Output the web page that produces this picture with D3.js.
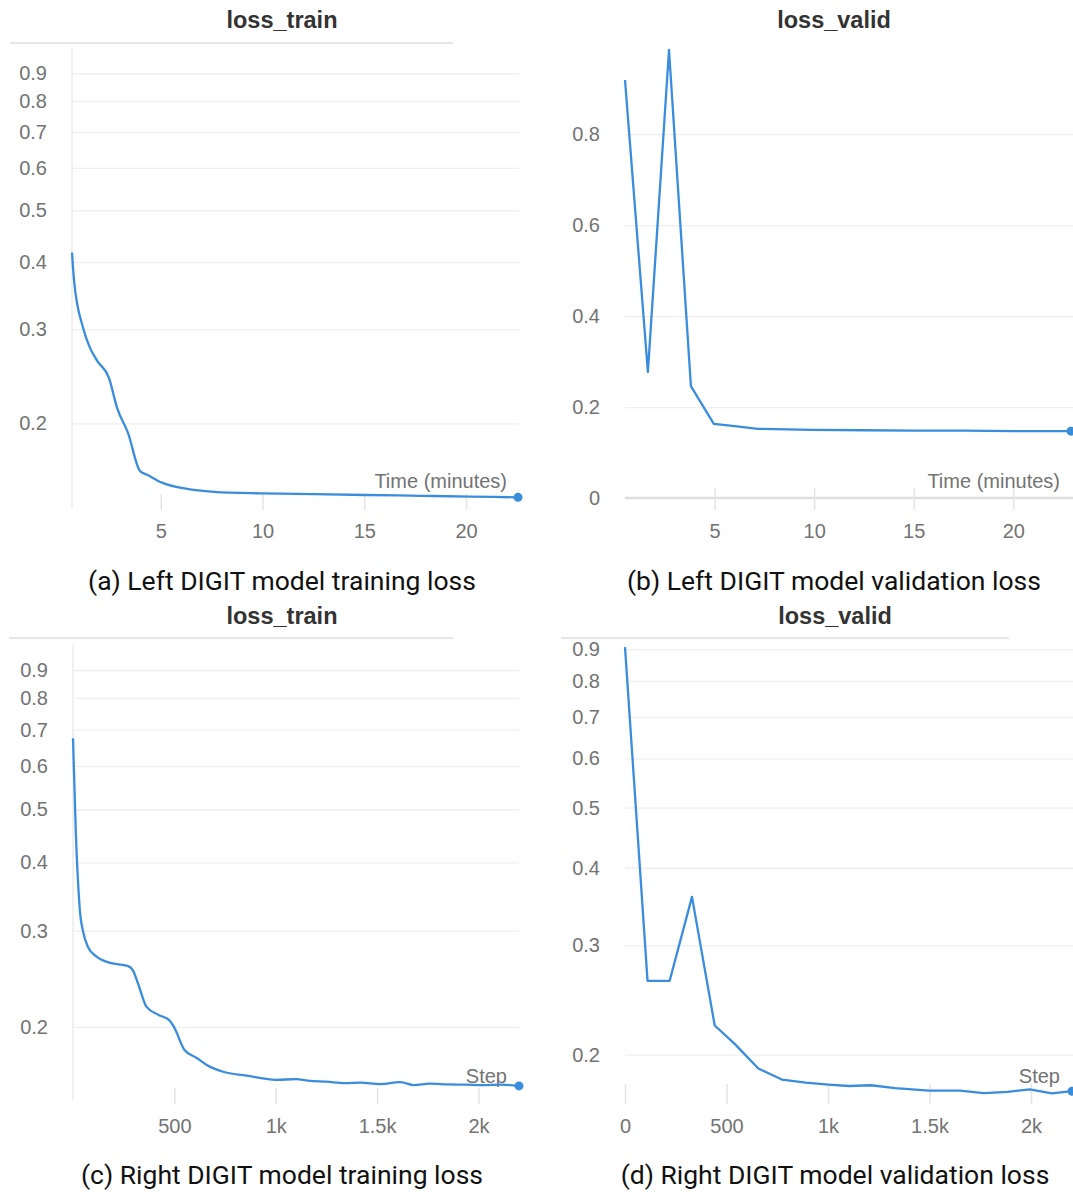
<!DOCTYPE html>
<html>
<head>
<meta charset="utf-8">
<script src="https://cdn.jsdelivr.net/npm/d3@7"></script>
<style>
  html, body { margin: 0; padding: 0; background: #fff; }
  svg { display: block; }
  .tick text { font-family: "Liberation Sans", Arial, sans-serif; }
</style>
</head>
<body>
<svg id="chart" width="1073" height="1197"></svg>
<script>
// ---------- data ----------
// (a) Left DIGIT training loss vs time (minutes)
const aTime = [0.64, 0.74, 1.18, 1.52, 1.87, 2.46, 2.85, 3.39, 3.98, 4.38, 5.06, 6.24, 7.62, 9.98, 12.5, 15.1, 17.8, 20.2, 22.55];
const aLoss = [0.417, 0.370, 0.302, 0.277, 0.262, 0.243, 0.214, 0.192, 0.163, 0.160, 0.155, 0.151, 0.149, 0.148, 0.1475, 0.147, 0.1465, 0.146, 0.1455];
// (b) Left DIGIT validation loss vs time (minutes)
const bTime = [0.5, 1.65, 2.71, 3.81, 4.96, 6.0, 7.17, 9.9, 12.5, 15.0, 17.5, 20.0, 22.9];
const bLoss = [0.919, 0.277, 0.985, 0.246, 0.163, 0.158, 0.152, 0.150, 0.149, 0.148, 0.148, 0.147, 0.147];
// (c) Right DIGIT training loss vs step
const cStep = [0, 14, 28, 35, 48, 74, 116, 184, 269, 295, 320, 363, 422, 473, 498, 550, 610, 660, 745, 864, 1001, 1100, 1170, 1250, 1342, 1420, 1514, 1614, 1682, 1760, 1850, 1940, 2022, 2110, 2200];
const cLoss = [0.675, 0.453, 0.352, 0.323, 0.301, 0.280, 0.269, 0.262, 0.2586, 0.254, 0.2407, 0.2176, 0.2104, 0.206, 0.200, 0.1815, 0.1755, 0.1704, 0.1654, 0.1627, 0.160, 0.1605, 0.1593, 0.1588, 0.1578, 0.1582, 0.1572, 0.1585, 0.1565, 0.1575, 0.157, 0.1568, 0.1565, 0.1568, 0.156];
// (d) Right DIGIT validation loss vs step
const dStep = [0, 111, 220, 330, 442, 539, 657, 773, 890, 1002, 1103, 1212, 1330, 1498, 1650, 1767, 1885, 1994, 2103, 2202];
const dLoss = [0.907, 0.263, 0.263, 0.359, 0.2228, 0.2083, 0.1899, 0.1823, 0.1802, 0.1789, 0.178, 0.1785, 0.1766, 0.175, 0.175, 0.1734, 0.1742, 0.1758, 0.1732, 0.1746];

// tick labels
const logYTicks = [0.2, 0.3, 0.4, 0.5, 0.6, 0.7, 0.8, 0.9];
const linYTicks = [0, 0.2, 0.4, 0.6, 0.8];
const timeTicks = [5, 10, 15, 20];
const stepTicksC = [500, 1000, 1500, 2000];
const stepTicksD = [0, 500, 1000, 1500, 2000];

const titles = ["loss_train", "loss_valid", "loss_train", "loss_valid"];
const xLabels = ["Time (minutes)", "Time (minutes)", "Step", "Step"];
const captions = [
  "(a) Left DIGIT model training loss",
  "(b) Left DIGIT model validation loss",
  "(c) Right DIGIT model training loss",
  "(d) Right DIGIT model validation loss"
];

// ---------- drawing ----------
const LINE = "#3a8ddd";
const FS = 20;
const svg = d3.select("#chart");

const panels = [
  { xs: aTime, ys: aLoss, log: true, xDom: [0.64, 22.55], xR: [72, 518], yDom: [0.139, 1.0], yR: [508, 49],
    gridR: [72, 519], yTicks: logYTicks, xTicks: timeTicks, xFmt: d3.format("d"),
    tickTop: 494, tickLen: 16, labC: 531, cx: 282, titleY: 28, underline: [10, 453, 43], vAxis: true,
    xLabel: [507, 488], capY: 590, zeroAxis: false, curve: d3.curveMonotoneX },
  { xs: bTime, ys: bLoss, log: false, xDom: [0.5, 22.9], xR: [625, 1071], yDom: [0, 0.985], yR: [498, 50],
    gridR: [625, 1073], yTicks: linYTicks, xTicks: timeTicks, xFmt: d3.format("d"),
    tickTop: 488, tickLen: 22, labC: 531, cx: 834, titleY: 28, underline: null, vAxis: false,
    xLabel: [1060, 488], capY: 590, zeroAxis: true, curve: d3.curveLinear },
  { xs: cStep, ys: cLoss, log: true, xDom: [0, 2200], xR: [73, 519], yDom: [0.147, 1.0], yR: [1100, 645],
    gridR: [73, 519], yTicks: logYTicks, xTicks: stepTicksC, xFmt: d3.format("~s"),
    tickTop: 1088, tickLen: 16, labC: 1126, cx: 282, titleY: 624, underline: [9, 453, 638], vAxis: true,
    xLabel: [507, 1083], capY: 1184, zeroAxis: false, curve: d3.curveMonotoneX },
  { xs: dStep, ys: dLoss, log: true, xDom: [0, 2202], xR: [625, 1072], yDom: [0.169, 0.914], yR: [1100, 645],
    gridR: [625, 1073], yTicks: logYTicks, xTicks: stepTicksD, xFmt: d3.format("~s"),
    tickTop: 1084, tickLen: 20, labC: 1126, cx: 835, titleY: 624, underline: [561, 1009, 638], vAxis: false,
    xLabel: [1060, 1083], capY: 1184, zeroAxis: false, curve: d3.curveLinear }
];

panels.forEach((p, i) => {
  const g = svg.append("g");
  const x = d3.scaleLinear().domain(p.xDom).range(p.xR);
  const y = (p.log ? d3.scaleLog() : d3.scaleLinear()).domain(p.yDom).range(p.yR);

  // title
  g.append("text").attr("x", p.cx).attr("y", p.titleY).attr("text-anchor", "middle")
    .attr("font-family", "Liberation Sans, Arial, sans-serif").attr("font-weight", "bold")
    .attr("font-size", 23.5).attr("fill", "#333").text(titles[i]);
  if (p.underline) {
    g.append("line").attr("x1", p.underline[0]).attr("x2", p.underline[1])
      .attr("y1", p.underline[2]).attr("y2", p.underline[2])
      .attr("stroke", "#e6e6e6").attr("stroke-width", 2);
  }

  // gridlines
  const gridW = p.gridR[1] - p.gridR[0];
  const grid = g.append("g").attr("transform", `translate(${p.gridR[0]},0)`)
    .call(d3.axisRight(y).tickValues(p.yTicks.filter(v => !(p.zeroAxis && v === 0))).tickSize(gridW).tickFormat(""));
  grid.select(".domain").remove();
  grid.selectAll("line").attr("stroke", "#efefef").attr("stroke-width", 1.3);

  // vertical axis line
  if (p.vAxis) {
    g.append("line").attr("x1", p.xR[0]).attr("x2", p.xR[0]).attr("y1", p.yR[1]).attr("y2", p.yR[0])
      .attr("stroke", "#f0f0f0").attr("stroke-width", 2);
  }

  // zero axis
  if (p.zeroAxis) {
    g.append("line").attr("x1", p.gridR[0]).attr("x2", p.gridR[1]).attr("y1", y(0)).attr("y2", y(0))
      .attr("stroke", "#dedede").attr("stroke-width", 2.5);
  }

  // y axis labels
  const ya = g.append("g").attr("transform", `translate(${p.xR[0]},0)`)
    .call(d3.axisLeft(y).tickValues(p.yTicks).tickSize(0).tickPadding(25)
      .tickFormat(v => v === 0 ? "0" : d3.format(".1f")(v)));
  ya.select(".domain").remove();
  ya.selectAll("text").attr("font-size", FS).attr("fill", "#737373");

  // x axis ticks and labels
  const pad = p.labC - 0.35 * FS - p.tickTop - p.tickLen;
  const xa = g.append("g").attr("transform", `translate(0,${p.tickTop})`)
    .call(d3.axisBottom(x).tickValues(p.xTicks).tickSize(p.tickLen).tickPadding(pad)
      .tickFormat(p.xFmt));
  xa.select(".domain").remove();
  xa.selectAll("line").attr("stroke", "#e4e4e4").attr("stroke-width", 1.5);
  xa.selectAll("text").attr("font-size", FS).attr("fill", "#737373");

  // x axis title
  g.append("text").attr("x", p.xLabel[0]).attr("y", p.xLabel[1]).attr("text-anchor", "end")
    .attr("font-family", "Liberation Sans, Arial, sans-serif").attr("font-size", FS)
    .attr("fill", "#737373").text(xLabels[i]);

  // data line
  const pts = p.xs.map((v, k) => [v, p.ys[k]]);
  g.append("path").datum(pts)
    .attr("d", d3.line().x(d => x(d[0])).y(d => y(d[1])).curve(p.curve))
    .attr("fill", "none").attr("stroke", LINE).attr("stroke-width", 2.3)
    .attr("stroke-linejoin", "round");
  const last = pts[pts.length - 1];
  g.append("circle").attr("cx", x(last[0])).attr("cy", y(last[1])).attr("r", 4.5).attr("fill", LINE);

  // caption
  g.append("text").attr("x", p.cx).attr("y", p.capY).attr("text-anchor", "middle")
    .attr("font-family", "Roboto, sans-serif").attr("font-size", 26.5).attr("fill", "#111")
    .text(captions[i]);
});
</script>
</body>
</html>
